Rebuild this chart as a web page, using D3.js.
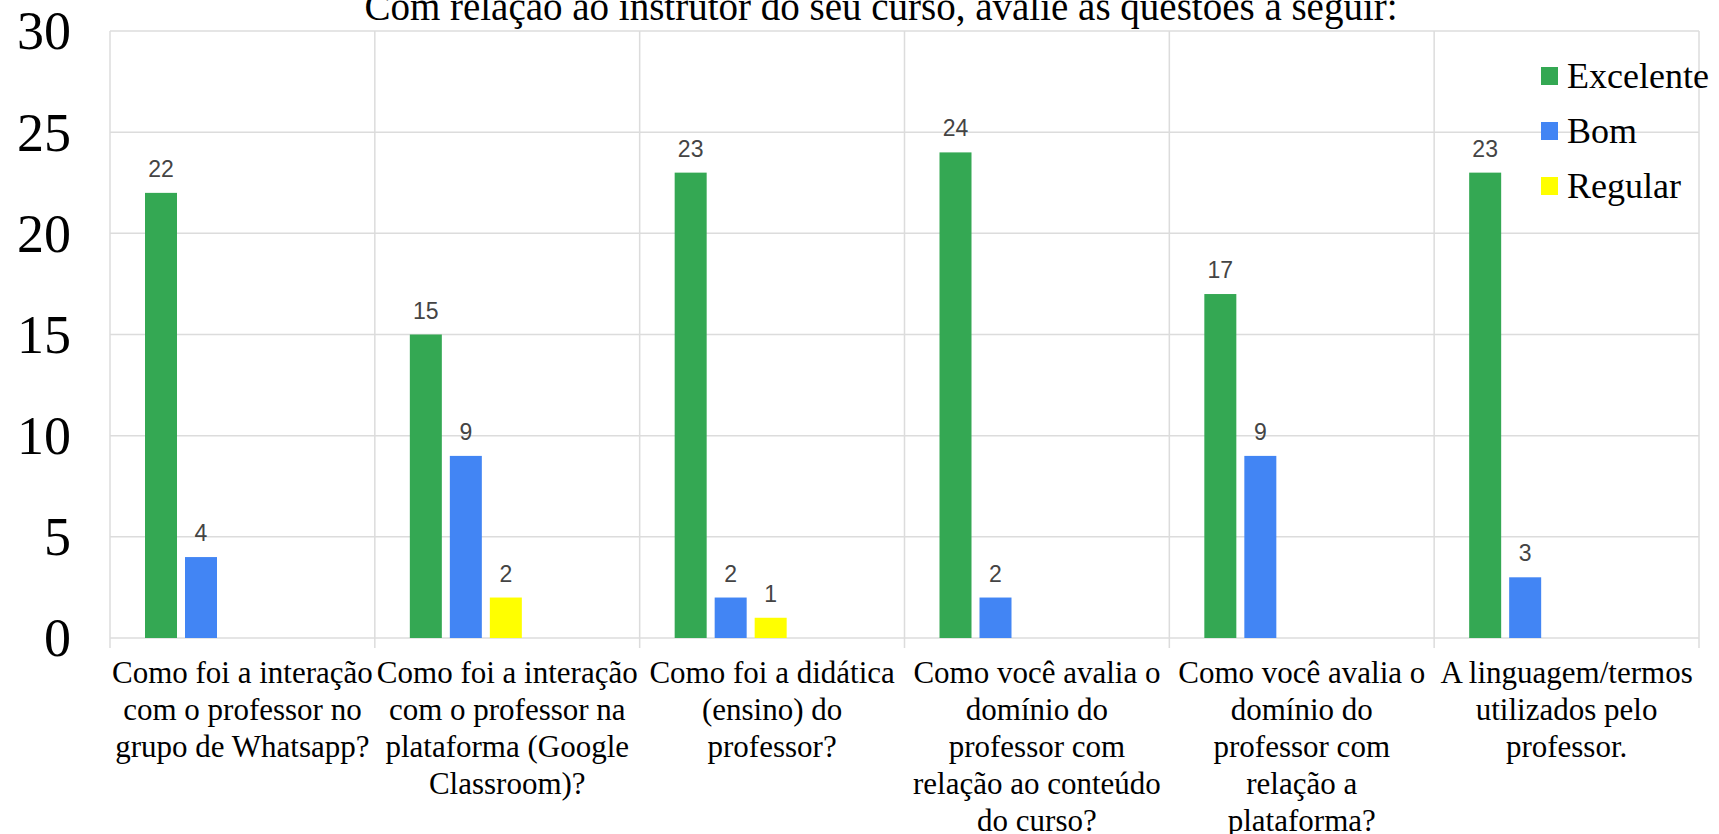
<!DOCTYPE html>
<meta charset="utf-8">
<style>
body { margin: 0; background: #fff; }
svg text { font-family: "Liberation Serif", "Times New Roman", serif; fill: #000; }
svg .values text { font-family: "Liberation Sans", Arial, sans-serif; fill: #444; text-anchor: middle; font-size: 23px; }
svg .grid line { stroke: #dcdcdc; stroke-width: 1.5px; }
</style>
<body>
<svg width="1719" height="834"></svg>
<script src="https://cdn.jsdelivr.net/npm/d3@7"></script>
<script>

var title = "Com relação ao instrutor do seu curso, avalie as questões a seguir:";

var categories = [
  ["Como foi a interação", "com o professor no", "grupo de Whatsapp?"],
  ["Como foi a interação", "com o professor na", "plataforma (Google", "Classroom)?"],
  ["Como foi a didática", "(ensino) do", "professor?"],
  ["Como você avalia o", "domínio do", "professor com", "relação ao conteúdo", "do curso?"],
  ["Como você avalia o", "domínio do", "professor com", "relação a", "plataforma?"],
  ["A linguagem/termos", "utilizados pelo", "professor."]
];

var series = ["Excelente", "Bom", "Regular"];
var excelente = [22, 15, 23, 24, 17, 23];
var bom = [4, 9, 2, 2, 9, 3];
var regular = [null, 2, 1, null, null, null];
var yTicks = [0, 5, 10, 15, 20, 25, 30];

var colors = { "Excelente": "#34a853", "Bom": "#4285f4", "Regular": "#ffff00" };

var values = [excelente, bom, regular];
var rows = [];
categories.forEach(function(c, i){
  series.forEach(function(s, j){
    if (values[j][i] != null) rows.push({cat: i, series: s, value: values[j][i]});
  });
});

var svg = d3.select("svg");
var mLeft = 110, mRight = 1699, mTop = 31, mBottom = 638;

var x0 = d3.scaleBand().domain(d3.range(categories.length)).range([mLeft, mRight]);
// bars sit at the left part of each band, not centred
var x1 = d3.scaleBand().domain(series).range([35, 147]).paddingInner(0.2);
var y = d3.scaleLinear().domain([0, 30]).range([mBottom, mTop]);

// grid
var grid = svg.append("g").attr("class", "grid");
grid.selectAll(".h").data(yTicks).enter().append("line")
  .attr("x1", mLeft).attr("x2", mRight)
  .attr("y1", d => y(d)).attr("y2", d => y(d));
grid.selectAll(".v").data(d3.range(categories.length + 1)).enter().append("line")
  .attr("x1", d => mLeft + d * x0.bandwidth()).attr("x2", d => mLeft + d * x0.bandwidth())
  .attr("y1", mTop).attr("y2", mBottom + 10);

// y labels
svg.append("g").selectAll("text").data(yTicks).enter().append("text")
  .attr("x", 71).attr("y", d => y(d)).attr("dy", "0.34em")
  .attr("text-anchor", "end").style("font-size", "54px")
  .text(d => d);

// bars
svg.append("g").selectAll("rect").data(rows).enter().append("rect")
  .attr("x", d => x0(d.cat) + x1(d.series))
  .attr("width", x1.bandwidth())
  .attr("y", d => y(d.value))
  .attr("height", d => y(0) - y(d.value))
  .attr("fill", d => colors[d.series]);

svg.append("g").attr("class", "values").selectAll("text").data(rows).enter().append("text")
  .attr("x", d => x0(d.cat) + x1(d.series) + x1.bandwidth() / 2)
  .attr("y", d => y(d.value) - 16)
  .text(d => d.value);

// x labels
var xl = svg.append("g").selectAll("text").data(categories).enter().append("text")
  .attr("text-anchor", "middle").style("font-size", "31px")
  .attr("transform", (d, i) => "translate(" + (x0(i) + x0.bandwidth() / 2) + ",683)");
xl.selectAll("tspan").data(d => d).enter().append("tspan")
  .attr("x", 0).attr("y", (d, i) => i * 37).text(d => d);

// title
svg.append("text").attr("x", 881).attr("y", 20).attr("text-anchor", "middle")
  .style("font-size", "39px").text(title);

// legend
var lg = svg.append("g").selectAll("g").data(series).enter().append("g")
  .attr("transform", (d, i) => "translate(1541," + (76 + i * 55) + ")");
lg.append("rect").attr("x", 0).attr("y", -9).attr("width", 17).attr("height", 18)
  .attr("fill", d => colors[d]);
lg.append("text").attr("x", 26).attr("dy", "0.34em").style("font-size", "36px").text(d => d);

</script>
